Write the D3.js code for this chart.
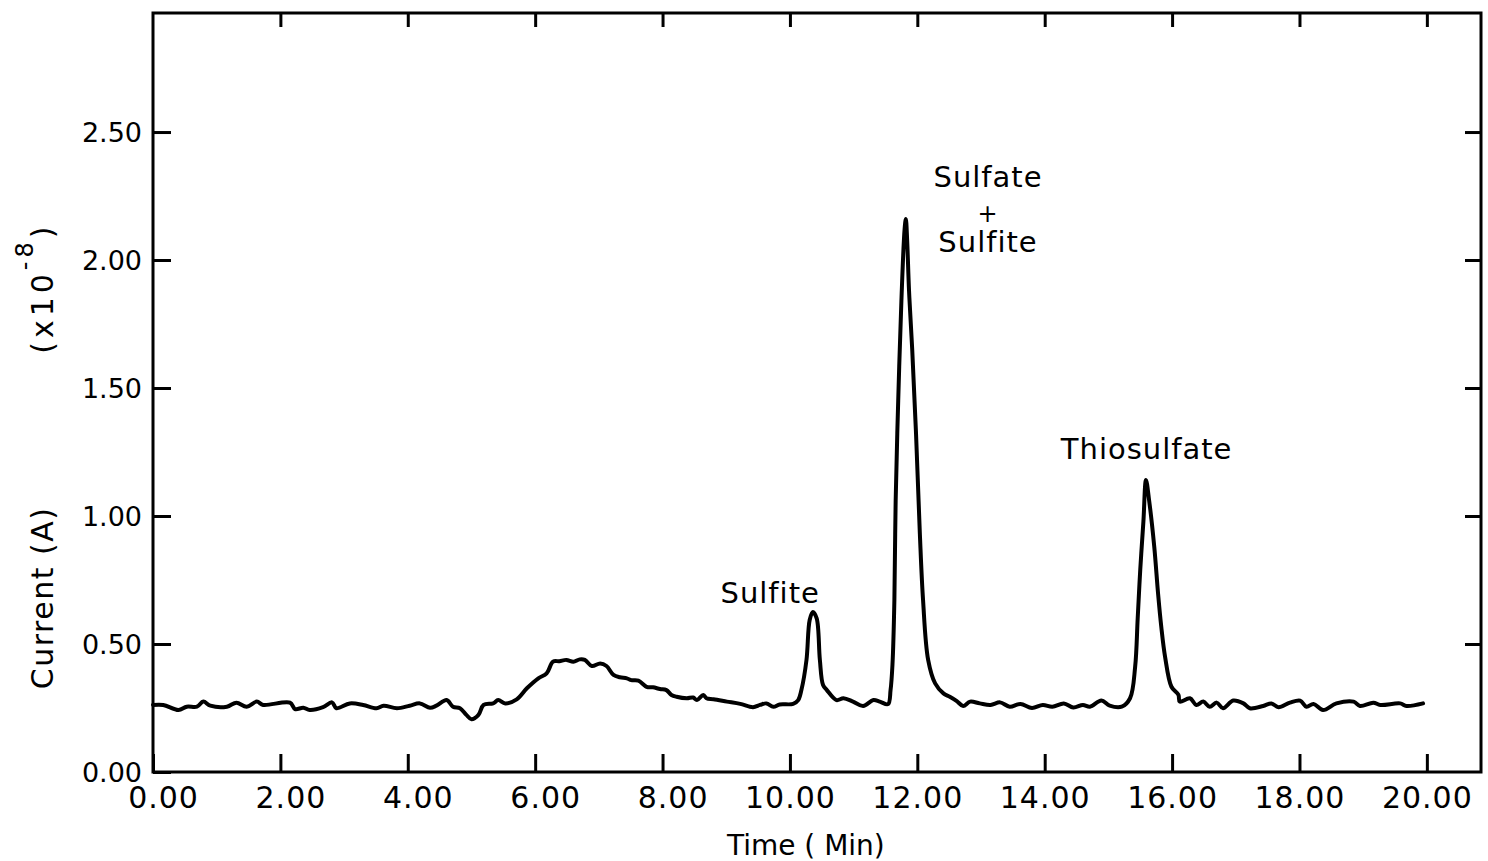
<!DOCTYPE html>
<html>
<head>
<meta charset="utf-8">
<script src="https://cdn.jsdelivr.net/npm/d3@7"></script>
<style>
  html, body { margin: 0; padding: 0; background: #fff; }
  svg { display: block; }
  text { font-family: 'DejaVu Sans', sans-serif; fill: #000; }
</style>
</head>
<body>
<div id="container"></div>
<script>
// chromatogram trace (time in min, current x1e-8 A)
const time = [
  0.00, 0.16, 0.40, 0.53, 0.69, 0.79, 0.90, 1.16, 1.31, 1.47, 1.63, 1.73,
  2.15, 2.23, 2.36, 2.46, 2.67, 2.81, 2.88, 3.09, 3.30, 3.51, 3.62, 3.83,
  4.03, 4.19, 4.35, 4.45, 4.61, 4.71, 4.82, 4.92, 5.00, 5.11, 5.19, 5.34,
  5.42, 5.53, 5.71, 5.87, 6.05, 6.18, 6.28, 6.38, 6.49, 6.60, 6.70, 6.78,
  6.89, 7.02, 7.12, 7.23, 7.33, 7.44, 7.51, 7.62, 7.75, 7.85, 7.96, 8.06,
  8.14, 8.22, 8.38, 8.48, 8.54, 8.64, 8.69, 8.80, 9.01, 9.22, 9.42, 9.53,
  9.63, 9.74, 9.84, 10.05, 10.13, 10.18, 10.26, 10.31, 10.36, 10.42, 10.47, 10.52,
  10.58, 10.73, 10.84, 10.99, 11.15, 11.31, 11.41, 11.54, 11.58, 11.61, 11.64, 11.66,
  11.70, 11.75, 11.80, 11.82, 11.84, 11.87, 11.92, 11.98, 12.04, 12.09, 12.17, 12.28,
  12.41, 12.51, 12.62, 12.72, 12.83, 12.98, 13.15, 13.30, 13.45, 13.62, 13.80, 13.97,
  14.12, 14.30, 14.45, 14.60, 14.71, 14.89, 15.02, 15.21, 15.34, 15.42, 15.46, 15.50,
  15.55, 15.59, 15.64, 15.72, 15.78, 15.83, 15.89, 15.99, 16.10, 16.12, 16.28, 16.38,
  16.49, 16.59, 16.70, 16.80, 16.96, 17.12, 17.22, 17.43, 17.56, 17.67, 17.85, 18.01,
  18.11, 18.22, 18.37, 18.58, 18.85, 18.95, 19.16, 19.27, 19.58, 19.68, 19.94
]
const current = [
  0.262, 0.262, 0.242, 0.255, 0.255, 0.275, 0.259, 0.255, 0.271, 0.255, 0.275, 0.262,
  0.271, 0.246, 0.251, 0.242, 0.253, 0.272, 0.249, 0.268, 0.262, 0.249, 0.259, 0.249,
  0.259, 0.268, 0.251, 0.259, 0.281, 0.255, 0.249, 0.223, 0.206, 0.223, 0.262, 0.268,
  0.281, 0.268, 0.284, 0.327, 0.366, 0.385, 0.431, 0.433, 0.438, 0.431, 0.440, 0.438,
  0.414, 0.424, 0.414, 0.379, 0.370, 0.366, 0.359, 0.357, 0.333, 0.331, 0.324, 0.320,
  0.301, 0.294, 0.288, 0.291, 0.281, 0.301, 0.288, 0.284, 0.275, 0.266, 0.253, 0.262,
  0.268, 0.255, 0.264, 0.266, 0.281, 0.320, 0.438, 0.594, 0.625, 0.600, 0.438, 0.340,
  0.320, 0.281, 0.288, 0.275, 0.258, 0.281, 0.275, 0.265, 0.320, 0.420, 0.672, 1.060,
  1.450, 1.840, 2.120, 2.160, 2.080, 1.880, 1.650, 1.320, 0.930, 0.672, 0.438, 0.346,
  0.307, 0.294, 0.277, 0.258, 0.275, 0.268, 0.262, 0.272, 0.255, 0.266, 0.250, 0.262,
  0.255, 0.268, 0.252, 0.262, 0.255, 0.279, 0.259, 0.255, 0.288, 0.411, 0.600, 0.790,
  0.980, 1.141, 1.060, 0.880, 0.697, 0.568, 0.450, 0.333, 0.301, 0.275, 0.288, 0.262,
  0.275, 0.255, 0.271, 0.249, 0.279, 0.268, 0.249, 0.258, 0.268, 0.253, 0.271, 0.279,
  0.255, 0.266, 0.242, 0.268, 0.275, 0.258, 0.271, 0.262, 0.268, 0.258, 0.268
]

// tick values
const xTicks = [0, 2, 4, 6, 8, 10, 12, 14, 16, 18, 20]
const yTicks = [0, 0.5, 1.0, 1.5, 2.0, 2.5]

// peak labels (text + the data point they sit next to)
const peakNames = ['Sulfite', 'Sulfate', '+', 'Sulfite', 'Thiosulfate']
const peakTimes = [9.69, 13.11, 13.11, 13.11, 15.60]
const peakLevels = [0.66, 2.285, 2.15, 2.031, 1.223]

const width = 1488
const height = 861
const marginLeft = 153
const marginRight = 7
const marginTop = 13
const marginBottom = 89

const x = d3.scaleLinear()
    .domain([0, 20.85])
    .range([marginLeft, width - marginRight])
const y = d3.scaleLinear()
    .domain([0, 2.965])
    .range([height - marginBottom, marginTop])

const svg = d3.create('svg')
    .attr('width', width)
    .attr('height', height)

// frame
svg.append('rect')
    .attr('x', x(0))
    .attr('y', y(2.965))
    .attr('width', x(20.85) - x(0))
    .attr('height', y(0) - y(2.965))
    .attr('fill', 'none')
    .attr('stroke', '#000')
    .attr('stroke-width', 3)

// bottom axis, ticks pointing inward
const bottomAxis = svg.append('g')
    .attr('transform', `translate(0,${y(0)})`)
    .call(d3.axisBottom(x)
        .tickValues(xTicks)
        .tickSize(-18)
        .tickFormat(d => d.toFixed(2)))
// top axis, no labels
const topAxis = svg.append('g')
    .attr('transform', `translate(0,${y(2.965)})`)
    .call(d3.axisTop(x).tickValues(xTicks.slice(1)).tickSize(-14).tickFormat(''))
// left axis
const leftAxis = svg.append('g')
    .attr('transform', `translate(${x(0)},0)`)
    .call(d3.axisLeft(y)
        .tickValues(yTicks)
        .tickSize(-18)
        .tickFormat(d => d.toFixed(2)))
// right axis
const rightAxis = svg.append('g')
    .attr('transform', `translate(${x(20.85)},0)`)
    .call(d3.axisRight(y).tickValues(yTicks.slice(1)).tickSize(-16).tickFormat(''))

for (const ax of [bottomAxis, topAxis, leftAxis, rightAxis]) {
  ax.select('.domain').remove()
  ax.selectAll('line').attr('stroke', '#000').attr('stroke-width', 3)
}

bottomAxis.selectAll('.tick text')
    .style('font-family', "'DejaVu Sans', sans-serif")
    .style('font-size', '30px')
    .style('letter-spacing', '1px')
    .attr('fill', '#000')
    .attr('y', 36)
    .attr('dy', 0)

leftAxis.selectAll('.tick text')
    .style('font-family', "'DejaVu Sans', sans-serif")
    .style('font-size', '27px')
    .attr('fill', '#000')
    .attr('x', -11)
    .attr('dy', '0.36em')

// x axis title
svg.append('text')
    .attr('x', x(10.25))
    .attr('y', 855)
    .attr('text-anchor', 'middle')
    .style('font-size', '28px')
    .text('Time ( Min)')

// y axis title, two parts
svg.append('text')
    .attr('transform', `translate(53,${y(0.68)})rotate(-90)`)
    .attr('text-anchor', 'middle')
    .style('font-size', '30px')
    .style('letter-spacing', '1.5px')
    .text('Current (A)')

const unitLabel = svg.append('text')
    .attr('transform', `translate(53,${y(1.89)})rotate(-90)`)
    .attr('text-anchor', 'middle')
    .style('font-size', '30px')
    .style('letter-spacing', '4px')
unitLabel.append('tspan').text('(x10')
unitLabel.append('tspan').attr('dy', -20).style('font-size', '24px').text('-8')
unitLabel.append('tspan').attr('dy', 20).text(')')

// trace
const trace = time.map((t, i) => ({ t: t, v: current[i] }))
const line = d3.line()
    .x(d => x(d.t))
    .y(d => y(d.v))
    .curve(d3.curveCatmullRom.alpha(0.5))

svg.append('path')
    .datum(trace)
    .attr('fill', 'none')
    .attr('stroke', '#000')
    .attr('stroke-width', 4)
    .attr('stroke-linejoin', 'round')
    .attr('stroke-linecap', 'round')
    .attr('d', line)

// peak labels
svg.append('g')
    .selectAll('text')
    .data(peakNames)
    .enter()
    .append('text')
    .attr('x', (d, i) => x(peakTimes[i]))
    .attr('y', (d, i) => y(peakLevels[i]))
    .attr('text-anchor', 'middle')
    .style('font-size', d => d === '+' ? '24px' : '29px')
    .style('letter-spacing', '1px')
    .text(d => d)

d3.select('#container').append(() => svg.node())

// line the x labels up on the decimal point like the original
bottomAxis.selectAll('.tick text').each(function (d) {
  const s = d.toFixed(2)
  const n = s.indexOf('.')
  const intW = n > 0 ? this.getSubStringLength(0, n) : 0
  const dotW = this.getSubStringLength(n, 1)
  d3.select(this)
      .attr('text-anchor', 'start')
      .attr('x', -(intW + dotW / 2))
})
</script>
</body>
</html>
